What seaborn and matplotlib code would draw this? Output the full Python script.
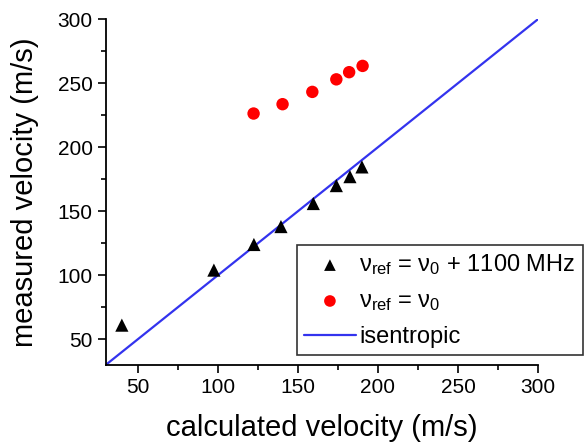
import matplotlib
matplotlib.use("Agg")
import matplotlib.pyplot as plt
import seaborn as sns
import pandas as pd
import numpy as np

calc_tri = [40, 97.5, 122.5, 139.4, 159.6, 174, 182.5, 190]
meas_tri = [61, 104, 124, 138, 156, 170, 177, 184.6]
calc_circ = [122.3, 140.4, 159, 174, 182, 190.4]
meas_circ = [226.3, 233.6, 243.2, 253, 258.6, 263.5]
iso_x = [30, 300]
iso_y = [30, 300]

sns.set_style("ticks")
plt.rcParams['font.family'] = ['Liberation Sans', 'DejaVu Sans']
plt.rcParams['mathtext.fontset'] = 'custom'
plt.rcParams['mathtext.rm'] = 'Liberation Sans'
plt.rcParams['mathtext.it'] = 'Liberation Sans'
plt.rcParams['mathtext.sf'] = 'Liberation Sans'
for k in ['text.color', 'axes.labelcolor', 'xtick.color', 'ytick.color', 'axes.edgecolor']:
    plt.rcParams[k] = 'black'

fig = plt.figure(figsize=(5.88, 4.46), dpi=100)
ax = fig.add_axes([0.180, 0.182, 0.735, 0.775])

df_tri = pd.DataFrame({"x": calc_tri, "y": meas_tri})
df_circ = pd.DataFrame({"x": calc_circ, "y": meas_circ})
df_iso = pd.DataFrame({"x": iso_x, "y": iso_y})

sns.scatterplot(data=df_tri, x="x", y="y", marker="^", color="black", s=90,
                edgecolor="none", ax=ax,
                label=r"$\mathrm{\nu_{ref}}$ = $\mathrm{\nu_0}$ + 1100 MHz", zorder=3)
sns.scatterplot(data=df_circ, x="x", y="y", marker="o", color="#ff0000", s=80,
                edgecolor="none", ax=ax,
                label=r"$\mathrm{\nu_{ref}}$ = $\mathrm{\nu_0}$", zorder=3)
sns.lineplot(data=df_iso, x="x", y="y", color="#3333ee", lw=1.6, ax=ax,
             label="isentropic", zorder=2)

ax.set_xlim(30, 300)
ax.set_ylim(30, 300)
ax.set_xticks([50, 100, 150, 200, 250, 300])
ax.set_yticks([50, 100, 150, 200, 250, 300])
ax.set_xticks([75, 125, 175, 225, 275], minor=True)
ax.set_yticks([75, 125, 175, 225, 275], minor=True)
ax.tick_params(axis='both', which='major', labelsize=15, length=6, width=1.2, direction='out', colors='black')
ax.tick_params(axis='both', which='minor', length=3.5, width=1.2, direction='out', colors='black')
for s in ['top', 'right']:
    ax.spines[s].set_visible(False)
for s in ['left', 'bottom']:
    ax.spines[s].set_linewidth(1.3)
    ax.spines[s].set_color('black')

ax.set_xlabel("calculated velocity (m/s)", fontsize=21, labelpad=12)
ax.set_ylabel("measured velocity (m/s)", fontsize=21, labelpad=13)

leg = ax.legend(loc='lower left', bbox_to_anchor=(0.442, 0.028), fontsize=17,
                frameon=True, fancybox=False, edgecolor='#333333',
                handlelength=2.2, handletextpad=0.15, borderpad=0.3,
                labelspacing=0.55, borderaxespad=0, framealpha=1)
leg.get_frame().set_linewidth(1.2)
for h in leg.legend_handles:
    try:
        h.set_sizes([70])
    except Exception:
        pass

fig.savefig("out.png", dpi=100)
